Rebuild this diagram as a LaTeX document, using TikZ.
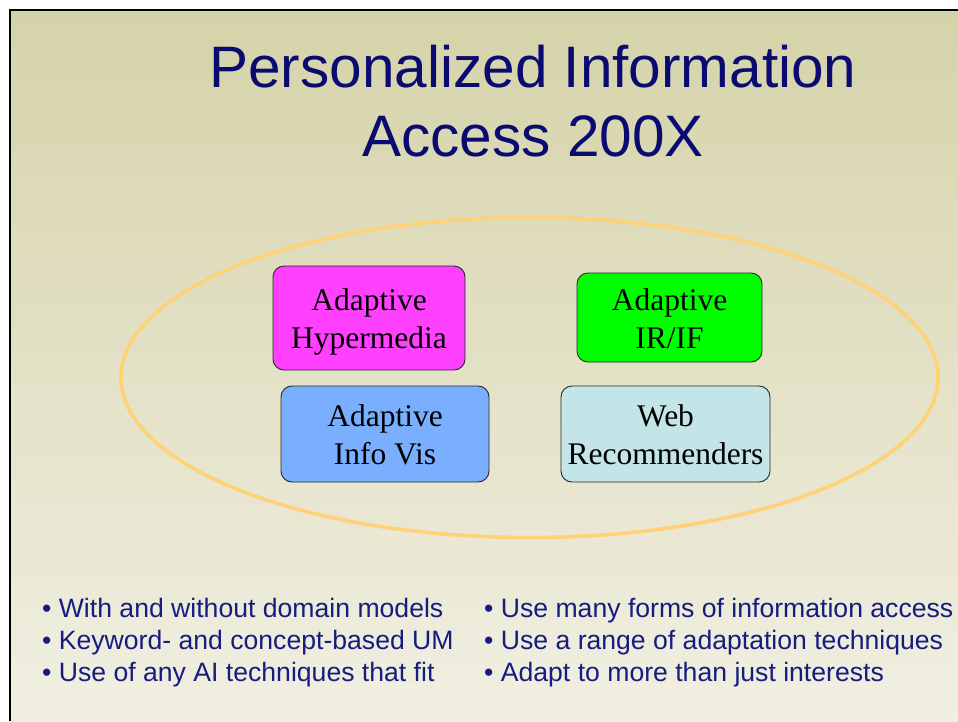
\documentclass[tikz,border=0pt]{standalone}
\usepackage{fontspec}
\setmainfont{Liberation Serif}
\newfontfamily\arialfont{Liberation Sans}
\definecolor{titlecol}{RGB}{10,10,112}
\definecolor{bulletcol}{RGB}{22,28,128}
\definecolor{bgtop}{RGB}{213,211,169}
\definecolor{bgbot}{RGB}{241,239,226}
\definecolor{ringcol}{RGB}{255,210,120}
\definecolor{ahcol}{RGB}{255,64,255}
\definecolor{ircol}{RGB}{0,255,0}
\definecolor{ivcol}{RGB}{122,174,255}
\definecolor{webcol}{RGB}{196,229,232}
\tikzset{
  boxshape/.style={draw=black!85, line width=0.9pt, rounded corners=11pt, inner sep=0pt},
  boxtext/.style={align=center, inner sep=0pt, font=\fontsize{31.5}{38}\selectfont, text=black},
  titletext/.style={anchor=base, inner sep=0pt, text=titlecol, font=\arialfont\fontsize{58.5}{69}\selectfont},
  bullettext/.style={anchor=base west, inner sep=0pt, text=bulletcol, font=\arialfont\fontsize{26.6}{32}\selectfont},
}
\begin{document}
\begin{tikzpicture}[x=1pt, y=-1pt]
\useasboundingbox (0,0) rectangle (958,721);
\fill[white] (0,0) rectangle (958,721);
% slide background gradient
\shade[top color=bgtop, bottom color=bgbot] (10,10) rectangle (958,721);
\draw[black, line width=2pt] (10,721) -- (10,10) -- (958,10);
% title
\node[titletext] (t1) at (533,87) {Personalized Information};
\node[titletext] (t2) at (533,156) {Access 200X};
% ellipse
\draw[ringcol, line width=3.6pt] (529.5,377.5) ellipse [x radius=408.5, y radius=160];
% boxes
\node[boxshape, fill=ahcol, minimum width=192pt, minimum height=104pt] (ah) at (369,318) {};
\node[boxshape, fill=ircol, minimum width=185pt, minimum height=89pt] (ir) at (669.5,317.5) {};
\node[boxshape, fill=ivcol, minimum width=208pt, minimum height=96pt] (iv) at (385,434) {};
\node[boxshape, fill=webcol, minimum width=209pt, minimum height=96pt] (web) at (665.5,434) {};
\node[boxtext] (ahT) at (369,321.5) {\strut Adaptive\\Hypermedia\strut};
\node[boxtext] (irT) at (669.5,321.5) {\strut Adaptive\\IR/IF\strut};
\node[boxtext] (ivT) at (385,438) {\strut Adaptive\\Info Vis\strut};
\node[boxtext] (webT) at (665.5,438) {\strut Web\\Recommenders\strut};
% bullets
\node[bullettext] (b1) at (42,617) {• With and without domain models};
\node[bullettext] (b2) at (42,649) {• Keyword- and concept-based UM};
\node[bullettext] (b3) at (42,681) {• Use of any AI techniques that fit};
\node[bullettext] (b4) at (484,617) {• Use many forms of information access};
\node[bullettext] (b5) at (484,649) {• Use a range of adaptation techniques};
\node[bullettext] (b6) at (484,681) {• Adapt to more than just interests};
\end{tikzpicture}
\end{document}
